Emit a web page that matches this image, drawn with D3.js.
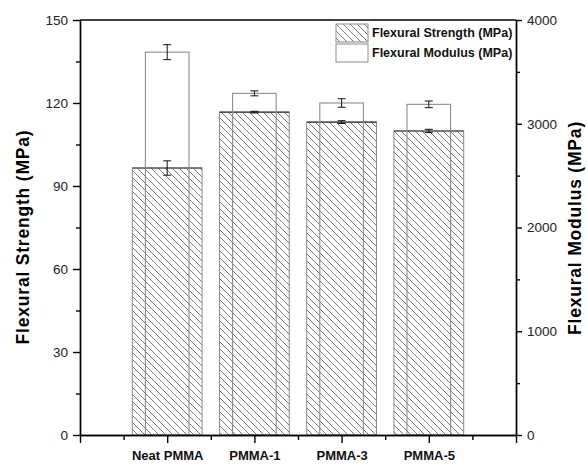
<!DOCTYPE html>
<html>
<head>
<meta charset="utf-8">
<script src="https://cdn.jsdelivr.net/npm/d3@7"></script>
<style>
  body { margin: 0; background: #fff; }
  svg { font-family: "Liberation Sans", Arial, sans-serif; }
  .axis path, .axis line { stroke: #000; stroke-width: 1.4; }
  .axis text { fill: #222; font-size: 13.5px; }
  .axis.x text { font-weight: bold; font-size: 13px; fill: #111; }
</style>
</head>
<body>
<div id="chart"></div>
<script>
// flexural strength / modulus of the samples

var categories = ["Neat PMMA", "PMMA-1", "PMMA-3", "PMMA-5"];
var strength = [96.5, 116.7, 113.1, 109.9];
var strengthErr = [2.6, 0.3, 0.5, 0.6];
var modulus = [3690, 3293, 3200, 3187];
var modulusErr = [72, 24, 41, 32];
var leftTicks = [0, 30, 60, 90, 120, 150];
var rightTicks = [0, 1000, 2000, 3000, 4000];
var legendLabels = ["Flexural Strength (MPa)", "Flexural Modulus (MPa)"];

var margin = { left: 80, right: 71, top: 20, bottom: 33 };
var W = 587, H = 468;
var width = W - margin.left - margin.right,
    height = H - margin.top - margin.bottom;

var svg = d3.select("#chart").append("svg")
    .attr("width", W)
    .attr("height", H);

// hatch pattern for the strength bars
var defs = svg.append("defs");
var pat = defs.append("pattern")
    .attr("id", "hatch")
    .attr("patternUnits", "userSpaceOnUse")
    .attr("width", 7)
    .attr("height", 7);
pat.append("path")
    .attr("d", "M0,0 L7,7 M-1,6 L1,8 M6,-1 L8,1")
    .attr("stroke", "#6a6a6a")
    .attr("stroke-width", 0.9);

var g = svg.append("g")
    .attr("transform", "translate(" + margin.left + "," + margin.top + ")");

//scales
var x = d3.scaleLinear().domain([0, 5]).range([0, width]);
var yL = d3.scaleLinear().domain([0, 150]).range([height, 0]);
var yR = d3.scaleLinear().domain([0, 4000]).range([height, 0]);

var wS = 0.8, wM = 0.5;
var unit = x(1) - x(0);

// strength bars (hatched)
g.selectAll(".sbar").data(strength).enter().append("rect")
    .attr("class", "sbar")
    .attr("x", function (d, i) { return x(i + 1) - wS * unit / 2; })
    .attr("y", function (d) { return yL(d); })
    .attr("width", wS * unit)
    .attr("height", function (d) { return height - yL(d); })
    .attr("fill", "url(#hatch)")
    .attr("stroke", "#8c8c8c")
    .attr("stroke-width", 1);

g.selectAll(".stop").data(strength).enter().append("line")
    .attr("x1", function (d, i) { return x(i + 1) - wS * unit / 2; })
    .attr("x2", function (d, i) { return x(i + 1) + wS * unit / 2; })
    .attr("y1", function (d) { return yL(d); })
    .attr("y2", function (d) { return yL(d); })
    .attr("stroke", "#333")
    .attr("stroke-width", 1.1);

// modulus bars (open)
g.selectAll(".mbar").data(modulus).enter().append("rect")
    .attr("class", "mbar")
    .attr("x", function (d, i) { return x(i + 1) - wM * unit / 2; })
    .attr("y", function (d) { return yR(d); })
    .attr("width", wM * unit)
    .attr("height", function (d) { return height - yR(d); })
    .attr("fill", "none")
    .attr("stroke", "#8c8c8c")
    .attr("stroke-width", 1.1);

// error bars
function errBars(vals, errs, scale) {
    var cap = 4;
    vals.forEach(function (v, i) {
        var cx = x(i + 1), lo = scale(v - errs[i]), hi = scale(v + errs[i]);
        g.append("line").attr("x1", cx).attr("x2", cx).attr("y1", lo).attr("y2", hi)
            .attr("stroke", "#111").attr("stroke-width", 1);
        g.append("line").attr("x1", cx - cap).attr("x2", cx + cap).attr("y1", lo).attr("y2", lo)
            .attr("stroke", "#111").attr("stroke-width", 1);
        g.append("line").attr("x1", cx - cap).attr("x2", cx + cap).attr("y1", hi).attr("y2", hi)
            .attr("stroke", "#111").attr("stroke-width", 1);
    });
}
errBars(strength, strengthErr, yL);
errBars(modulus, modulusErr, yR);

//axes
var xAxis = d3.axisBottom(x)
    .tickValues([0, 1, 2, 3, 4, 5])
    .tickSize(8).tickSizeOuter(0).tickPadding(8)
    .tickFormat(function (d) { return (d >= 1 && d <= 4) ? categories[d - 1] : ""; });
g.append("g").attr("class", "axis x")
    .attr("transform", "translate(0," + height + ")")
    .call(xAxis);
g.append("g").attr("class", "axis")
    .attr("transform", "translate(0," + height + ")")
    .call(d3.axisBottom(x).tickValues([0.5, 1.5, 2.5, 3.5, 4.5]).tickSize(5).tickSizeOuter(0).tickFormat(""));

g.append("g").attr("class", "axis yl")
    .call(d3.axisLeft(yL).tickValues(leftTicks).tickSize(7).tickSizeOuter(0).tickPadding(5));
g.append("g").attr("class", "axis")
    .call(d3.axisLeft(yL).tickValues([15, 45, 75, 105, 135]).tickSize(4).tickSizeOuter(0).tickFormat(""));

g.append("g").attr("class", "axis yr")
    .attr("transform", "translate(" + width + ",0)")
    .call(d3.axisRight(yR).tickValues(rightTicks).tickSize(6).tickSizeOuter(0).tickPadding(5).tickFormat(d3.format("d")));
g.append("g").attr("class", "axis")
    .attr("transform", "translate(" + width + ",0)")
    .call(d3.axisRight(yR).tickValues([500, 1500, 2500, 3500]).tickSize(4).tickSizeOuter(0).tickFormat(""));

// top frame line
g.append("line")
    .attr("x1", 0).attr("x2", width).attr("y1", 0).attr("y2", 0)
    .attr("stroke", "#000").attr("stroke-width", 1.4);

// axis titles
svg.append("text")
    .attr("transform", "translate(29,237) rotate(-90)")
    .attr("text-anchor", "middle")
    .style("font-size", "17.5px").style("font-weight", "bold").style("letter-spacing", "0.8px")
    .text("Flexural Strength (MPa)");
svg.append("text")
    .attr("transform", "translate(581,228) rotate(-90)")
    .attr("text-anchor", "middle")
    .style("font-size", "17.5px").style("font-weight", "bold").style("letter-spacing", "0.8px")
    .text("Flexural Modulus (MPa)");

//legend
var leg = svg.append("g").attr("transform", "translate(336,24)");
legendLabels.forEach(function (lab, i) {
    leg.append("rect")
        .attr("x", 0).attr("y", i * 20)
        .attr("width", 32).attr("height", 18)
        .attr("fill", i === 0 ? "url(#hatch)" : "none")
        .attr("stroke", "#8c8c8c").attr("stroke-width", 1);
    leg.append("text")
        .attr("x", 36).attr("y", i * 20 + 9)
        .attr("dominant-baseline", "central")
        .style("font-size", "12.5px").style("font-weight", "bold").style("fill", "#111")
        .text(lab);
});
</script>
</body>
</html>
